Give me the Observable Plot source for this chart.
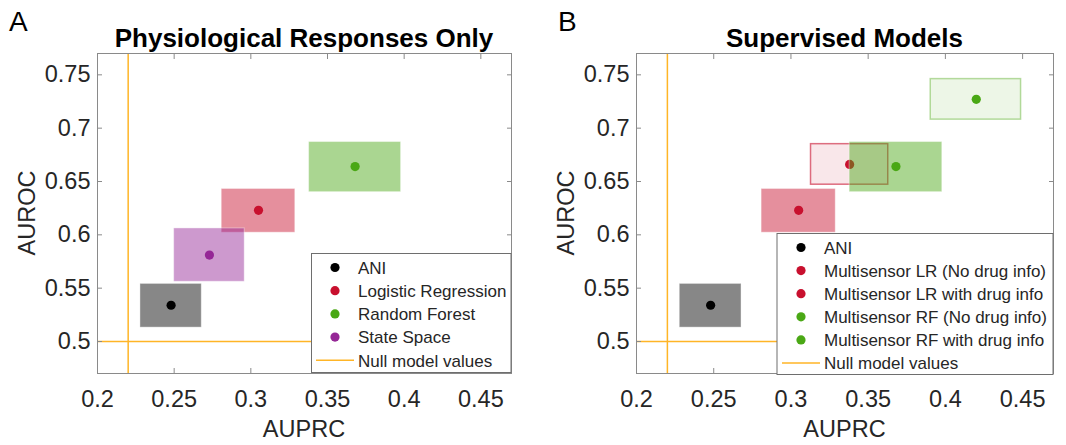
<!DOCTYPE html>
<html><head><meta charset="utf-8">
<script src="https://cdn.jsdelivr.net/npm/d3@7"></script>
<script src="https://cdn.jsdelivr.net/npm/@observablehq/plot@0.6"></script>
<style>
body{margin:0;background:#fff;}
#wrap{position:relative;width:1066px;height:445px;font-family:"Liberation Sans",Arial,sans-serif;overflow:hidden;}
.layer{position:absolute;top:0;}
</style></head><body><div id="wrap"></div>
<script>
// ---- axes ----
const xTicks = [0.2, 0.25, 0.3, 0.35, 0.4, 0.45];
const yTicks = [0.5, 0.55, 0.6, 0.65, 0.7, 0.75];
const xDomain = [0.2, 0.47];
const yDomain = [0.47, 0.77];
const nullAUPRC = 0.22;
const nullAUROC = 0.5;
const nullLabel = "Null model values";

// ---- panel A: Physiological Responses Only ----
const titleA = "Physiological Responses Only";
const namesA  = ["ANI", "Logistic Regression", "Random Forest", "State Space"];
const auprcA  = [0.248, 0.305, 0.368, 0.273];
const aurocA  = [0.534, 0.623, 0.664, 0.581];
const auprcLoA = [0.228, 0.281, 0.338, 0.250];
const auprcHiA = [0.268, 0.329, 0.398, 0.296];
const aurocLoA = [0.513, 0.602, 0.640, 0.556];
const aurocHiA = [0.554, 0.643, 0.687, 0.606];

// ---- panel B: Supervised Models ----
const titleB = "Supervised Models";
const namesB  = ["ANI", "Multisensor LR (No drug info)", "Multisensor LR with drug info", "Multisensor RF (No drug info)", "Multisensor RF with drug info"];
const auprcB  = [0.248, 0.305, 0.338, 0.368, 0.420];
const aurocB  = [0.534, 0.623, 0.666, 0.664, 0.727];
const auprcLoB = [0.228, 0.281, 0.313, 0.338, 0.3905];
const auprcHiB = [0.268, 0.329, 0.363, 0.398, 0.449];
const aurocLoB = [0.513, 0.602, 0.647, 0.640, 0.708];
const aurocHiB = [0.554, 0.643, 0.685, 0.687, 0.746];

// ---- styles ----
const colorsA = ["#000000", "#c8102e", "#4aa815", "#952796"];
const boxStyleA = ["solid", "solid", "solid", "solid"];
const colorsB = ["#000000", "#c8102e", "#c8102e", "#4aa815", "#4aa815"];
const boxStyleB = ["solid", "solid", "outline", "solid", "outline"];
const orange = "#ffb526";
const frameColor = "#8a8a8a";
const textColor = "#262626";

const wrap = document.getElementById("wrap");

function panel(cfg) {
  const marks = [
    Plot.ruleX([nullAUPRC], {stroke: orange, strokeWidth: 1.5}),
    Plot.ruleY([nullAUROC], {stroke: orange, strokeWidth: 1.5})
  ];
  cfg.names.forEach((n, i) => {
    const c = cfg.colors[i];
    const solid = cfg.style[i] === "solid";
    marks.push(Plot.rect([i], {
      x1: j => cfg.lo[j], x2: j => cfg.hi[j], y1: j => cfg.ylo[j], y2: j => cfg.yhi[j],
      fill: c, fillOpacity: solid ? 0.47 : 0.1,
      stroke: solid ? "#ffffff" : c, strokeOpacity: solid ? 0.4 : (c === "#c8102e" ? 0.6 : 0.4),
      strokeWidth: solid ? 1 : 1.5
    }));
    marks.push(Plot.dot([i], {x: j => cfg.x[j], y: j => cfg.y[j], r: 4.6, fill: c, stroke: "none"}));
  });
  marks.push(
    Plot.frame({stroke: frameColor}),
    Plot.axisX({anchor: "bottom", ticks: xTicks, tickSize: 5, dy: -5, tickFormat: () => "", stroke: frameColor, label: null}),
    Plot.axisX({anchor: "top", ticks: xTicks, tickSize: 5, dy: 5, tickFormat: () => "", stroke: frameColor, label: null}),
    Plot.axisY({anchor: "left", ticks: yTicks, tickSize: 5, dx: 5, tickFormat: () => "", stroke: frameColor, label: null}),
    Plot.axisY({anchor: "right", ticks: yTicks, tickSize: 5, dx: -5, tickFormat: () => "", stroke: frameColor, label: null}),
    Plot.axisX({anchor: "bottom", ticks: xTicks, tickSize: 0, tickPadding: 17, tickFormat: d => String(d), label: null, fill: textColor}),
    Plot.axisY({anchor: "left", ticks: yTicks, tickSize: 0, tickPadding: 7, tickFormat: d => String(d), label: null, fill: textColor})
  );
  const svg = Plot.plot({
    width: 533, height: 445,
    marginLeft: cfg.ml, marginRight: cfg.mr, marginTop: 53, marginBottom: 72,
    x: {domain: xDomain}, y: {domain: yDomain},
    style: {fontSize: "23.5px", fontFamily: "'Liberation Sans', Arial, sans-serif", color: textColor, background: "transparent"},
    marks
  });
  svg.classList.add("layer");
  svg.style.left = cfg.left + "px";
  wrap.appendChild(svg);
}

panel({names: namesA, x: auprcA, y: aurocA, lo: auprcLoA, hi: auprcHiA, ylo: aurocLoA, yhi: aurocHiA, colors: colorsA, style: boxStyleA, left: 0, ml: 97, mr: 22});
panel({names: namesB, x: auprcB, y: aurocB, lo: auprcLoB, hi: auprcHiB, ylo: aurocLoB, yhi: aurocHiB, colors: colorsB, style: boxStyleB, left: 533, ml: 103, mr: 13});

// ---- overlay: titles, labels, legends ----
const ov = d3.select(wrap).append("svg").attr("class", "layer").attr("width", 1066).attr("height", 445)
  .style("left", "0px").style("font-family", "'Liberation Sans', Arial, sans-serif").style("fill", textColor);

function annotate(o) {
  ov.append("text").attr("x", o.letterX).attr("y", 31).attr("font-size", 28).attr("fill", "#000").text(o.letter);
  ov.append("text").attr("x", o.cx).attr("y", 46.5).attr("font-size", 26).attr("font-weight", "bold")
    .attr("text-anchor", "middle").attr("fill", "#000").text(o.title);
  ov.append("text").attr("x", o.cx).attr("y", 437).attr("font-size", 23.5).attr("text-anchor", "middle").text("AUPRC");
  ov.append("text").attr("transform", `translate(${o.ylabX},213) rotate(-90)`).attr("font-size", 23.5)
    .attr("text-anchor", "middle").text("AUROC");
  const g = ov.append("g");
  g.append("rect").attr("x", o.lx).attr("y", o.ly).attr("width", o.lw).attr("height", o.lh)
    .attr("fill", "#fff").attr("stroke", "#6e6e6e").attr("stroke-width", 1);
  o.names.forEach((n, i) => {
    const cy = o.ly + o.row0 + i * o.rowH;
    g.append("circle").attr("cx", o.mx).attr("cy", cy).attr("r", 4.6).attr("fill", o.colors[i]);
    g.append("text").attr("x", o.tx).attr("y", cy + 6.3).attr("font-size", 17).text(n);
  });
  const cy = o.ly + o.row0 + o.names.length * o.rowH;
  g.append("line").attr("x1", o.mx - 19).attr("x2", o.mx + 19).attr("y1", cy).attr("y2", cy)
    .attr("stroke", orange).attr("stroke-width", 1.5);
  g.append("text").attr("x", o.tx).attr("y", cy + 6.3).attr("font-size", 17).text(nullLabel);
}

annotate({letter: "A", letterX: 9, title: titleA, cx: 304, ylabX: 35, names: namesA, colors: colorsA,
  lx: 311.5, ly: 253.5, lw: 199.5, lh: 119, mx: 335, tx: 358, row0: 14, rowH: 23.2});
annotate({letter: "B", letterX: 558, title: titleB, cx: 844.5, ylabX: 35 + 539, names: namesB, colors: colorsB,
  lx: 777, ly: 233.5, lw: 276, lh: 141, mx: 801, tx: 824, row0: 14, rowH: 23.1});
</script></body></html>
